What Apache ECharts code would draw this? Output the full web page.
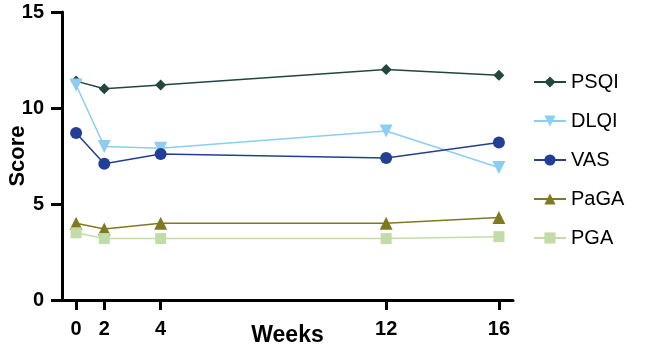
<!DOCTYPE html>
<html>
<head>
<meta charset="utf-8">
<style>
  html, body { margin: 0; padding: 0; background: #fff; }
  #chart { width: 649px; height: 350px; }
</style>
<script src="https://cdn.jsdelivr.net/npm/echarts@6/dist/echarts.min.js"></script>
</head>
<body>
<div id="chart"></div>
<script>
// 数据
var weeks = [0, 2, 4, 12, 16];
var psqi = [11.4, 11.0, 11.2, 12.0, 11.7];
var dlqi = [11.2, 8.0, 7.9, 8.8, 6.9];
var vas = [8.7, 7.1, 7.6, 7.4, 8.2];
var paga = [4.0, 3.7, 4.0, 4.0, 4.3];
var pga = [3.5, 3.2, 3.2, 3.2, 3.3];
var yTicks = [0, 5, 10, 15];

var font = 'Liberation Sans, Arial, sans-serif';

function pairs(values) {
    return weeks.map(function (w, i) { return [w, values[i]]; });
}

function line(name, values, color, symbol, size) {
    return {
        name: name,
        type: 'line',
        data: pairs(values),
        symbol: symbol,
        symbolSize: size,
        lineStyle: { color: color, width: 1.5 },
        itemStyle: { color: color },
        z: 3
    };
}

var chart = echarts.init(document.getElementById('chart'));
chart.setOption({
    animation: false,
    grid: { left: 62, top: 12, right: 136, bottom: 50, outerBoundsMode: 'none', containLabel: false },
    legend: {
        orient: 'vertical',
        left: 528,
        top: 67,
        itemWidth: 32,
        itemHeight: 14,
        itemGap: 19,
        textStyle: { fontFamily: font, fontSize: 20, color: '#000' },
        data: ['PSQI', 'DLQI', 'VAS', 'PaGA', 'PGA']
    },
    xAxis: {
        type: 'value',
        min: -0.5,
        max: 16.5,
        // 0~2周之间压缩一格
        breaks: [{ start: 0.5, end: 1.5, gap: 0 }],
        breakArea: { show: false, zigzagAmplitude: 0, itemStyle: { opacity: 0 } },
        name: 'Weeks',
        nameLocation: 'middle',
        nameGap: 24,
        nameMoveOverlap: false,
        nameTextStyle: { fontFamily: font, fontSize: 23, fontWeight: 'bold', color: '#000' },
        splitLine: { show: false },
        axisLine: { onZero: false, breakLine: false, lineStyle: { color: '#000', width: 3 } },
        axisTick: { customValues: weeks, length: 10, lineStyle: { color: '#000', width: 3 } },
        axisLabel: {
            customValues: weeks,
            margin: 19,
            fontFamily: font, fontSize: 20, fontWeight: 'bold', color: '#000'
        }
    },
    yAxis: {
        type: 'value',
        min: 0,
        max: 15,
        interval: 5,
        name: 'Score',
        nameLocation: 'middle',
        nameGap: 33,
        nameMoveOverlap: false,
        nameTextStyle: { fontFamily: font, fontSize: 22, fontWeight: 'bold', color: '#000' },
        splitLine: { show: false },
        axisLine: { show: true, onZero: false, lineStyle: { color: '#000', width: 3 } },
        axisTick: { show: true, customValues: yTicks, length: 11, lineStyle: { color: '#000', width: 3 } },
        axisLabel: {
            customValues: yTicks,
            margin: 18,
            fontFamily: font, fontSize: 20, fontWeight: 'bold', color: '#000'
        }
    },
    series: [
        line('PSQI', psqi, '#23463f', 'diamond', 11),
        line('DLQI', dlqi, '#8ccdf2', 'path://M0,0 L10,0 L5,9 Z', 13),
        line('VAS', vas, '#223f95', 'circle', 12),
        line('PaGA', paga, '#7f7a22', 'triangle', 13),
        line('PGA', pga, '#c2dca9', 'rect', 11)
    ]
});
</script>
</body>
</html>
